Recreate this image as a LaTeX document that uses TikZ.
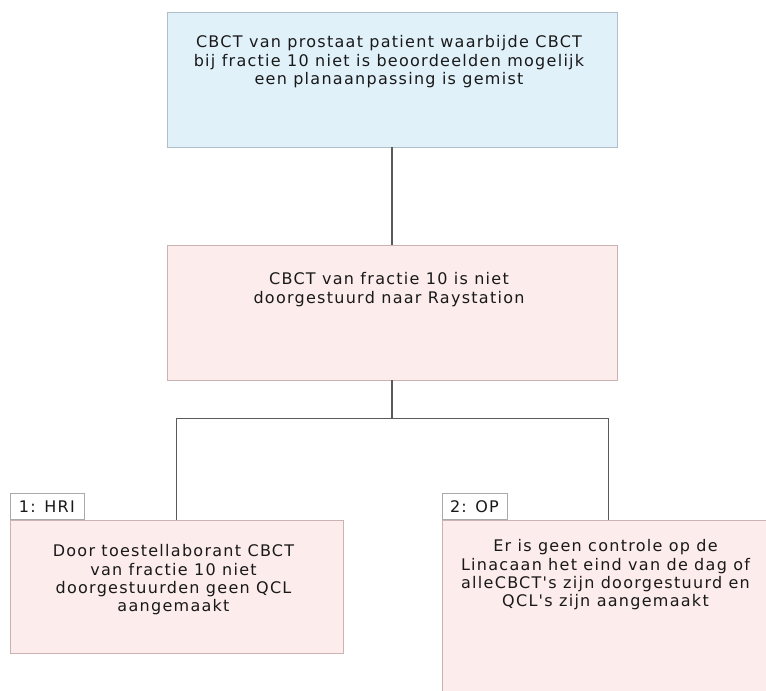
\documentclass[tikz,border=0pt]{standalone}
\usepackage{fontspec}
\newfontfamily\boxfont[LetterSpace=8]{DejaVu Sans}
\usepackage{xcolor}
\definecolor{BoxBlue}{RGB}{225,241,250}
\definecolor{BoxBlueLine}{RGB}{176,190,200}
\definecolor{BoxPink}{RGB}{253,236,236}
\definecolor{BoxPinkLine}{RGB}{205,178,178}
\definecolor{TabLine}{RGB}{170,170,170}
\definecolor{LinkGray}{RGB}{90,90,90}
\usetikzlibrary{positioning}

\begin{document}
\begin{tikzpicture}[
    x = 1pt, y = 1pt
    , box/.style = {
      , rectangle
      , minimum width = 450pt
      , minimum height = 135pt
      , inner sep = 0pt
      , draw = BoxPinkLine
      , fill = BoxPink
    }
    , problem/.style = {
      box,
      fill=BoxBlue,
      draw=BoxBlueLine
    }
    , cause/.style = {
      box,
      minimum width=333pt,
      minimum height=133pt
    }
    , txt/.style = {
      , align = center
      , inner sep = 0pt
      , xshift = -3pt
      , text = black!90
      , font = \boxfont\fontsize{16}{18.3}\selectfont
    }
    , tab/.style = {
      , anchor = south west
      , draw = TabLine
      , fill = white
      , minimum height = 26pt
      , inner xsep = 9pt
      , inner ysep = 0pt
      , text = black!90
      , font = \boxfont\fontsize{16}{18}\selectfont
    }
    , link/.style = {
      , draw = LinkGray
      , line width = 1.2pt
    }
    , on grid
    , node distance = 233pt
    ]
    \useasboundingbox (0,0) rectangle (766,691);
    \clip (0,0) rectangle (766,691);

    \node[problem] at (392,611.5) (problem) {};
    \node[box, below = of problem] (event) {};
    \node[cause, below left = 274pt and 215.5pt of event] (hri) {};
    % right box runs off the page, as in the export
    \node[cause, minimum height=190pt, below right = 302.5pt and 216.5pt of event] (op) {};

    \node[tab] at (hri.north west) (hri-tab) {1: HRI};
    \node[tab, inner xsep=8pt] at (op.north west) (op-tab) {2: OP};

    \node[txt, below = 23.8pt of problem.north, anchor=north] (problem-txt)
      {CBCT van prostaat patient waarbijde CBCT\\bij fractie 10 niet is beoordeelden mogelijk\\een planaanpassing is gemist};
    \node[txt, below = 27.8pt of event.north, anchor=north] (event-txt)
      {CBCT van fractie 10 is niet\\doorgestuurd naar Raystation};
    \node[txt, below = 24.8pt of hri.north, anchor=north] (hri-txt)
      {Door toestellaborant CBCT\\van fractie 10 niet\\doorgestuurden geen QCL\\aangemaakt};
    \node[txt, below = 19.8pt of op.north, anchor=north] (op-txt)
      {Er is geen controle op de\\Linacaan het eind van de dag of\\alleCBCT's zijn doorgestuurd en\\QCL's zijn aangemaakt};

    \coordinate[below = 38pt of event.south] (split);

    \draw[link] (problem) -- (event);
    \draw[link] (event) -- (split);
    \draw[link] (split) -| (hri);
    \draw[link] (split) -| (op);
  \end{tikzpicture}
\end{document}
